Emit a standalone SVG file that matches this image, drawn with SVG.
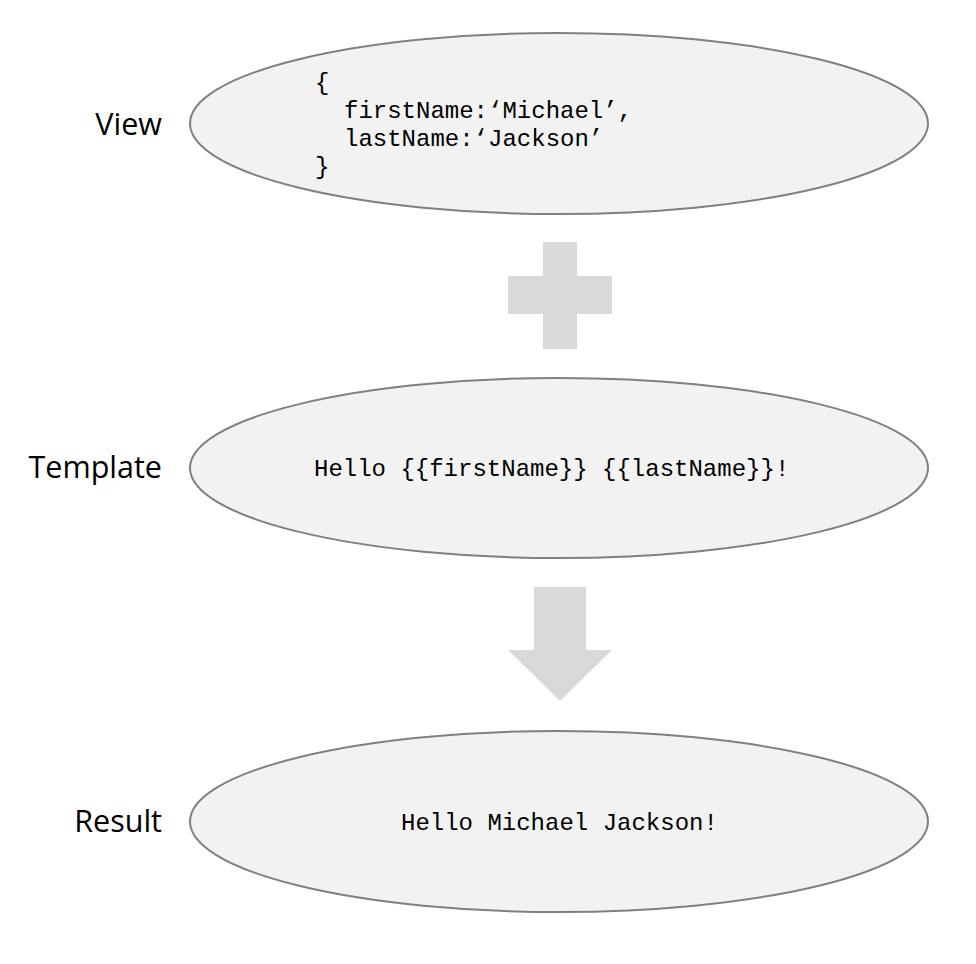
<svg xmlns="http://www.w3.org/2000/svg" width="976" height="964" viewBox="0 0 976 964">
<style>
.node ellipse{fill:#f2f2f2;stroke:#808080;stroke-width:2}
.label{font-family:"Open Sans","Noto Sans",sans-serif;font-size:30.5px;fill:#000;text-anchor:end}
.code{font-family:"Liberation Mono","DejaVu Sans Mono",monospace;font-size:24px;fill:#000}
.sym{fill:#d9d9d9}
</style>
<rect width="976" height="964" fill="#fff"/>
<g id="view" class="node">
<ellipse cx="559" cy="123.5" rx="369" ry="90.5"/>
<text class="label" x="162" y="135">View</text>
<text class="code" x="315" y="90">{</text>
<text class="code" x="344" y="118">firstName:‘Michael’,</text>
<text class="code" x="344" y="146">lastName:‘Jackson’</text>
<text class="code" x="315" y="174">}</text>
</g>
<g id="template" class="node">
<ellipse cx="559" cy="468" rx="369" ry="90"/>
<text class="label" x="162" y="478">Template</text>
<text class="code" x="314" y="476">Hello {{firstName}} {{lastName}}!</text>
</g>
<g id="result" class="node">
<ellipse cx="559" cy="821.5" rx="369" ry="90.5"/>
<text class="label" x="162" y="832">Result</text>
<text class="code" x="401" y="830">Hello Michael Jackson!</text>
</g>
<g id="connectors">
<path class="sym" d="M543 242H577V276H612V314H577V349H543V314H508V276H543Z"/>
<path class="sym" d="M534 587H586V650H612L560 701L508 650H534Z"/>
</g>
</svg>
